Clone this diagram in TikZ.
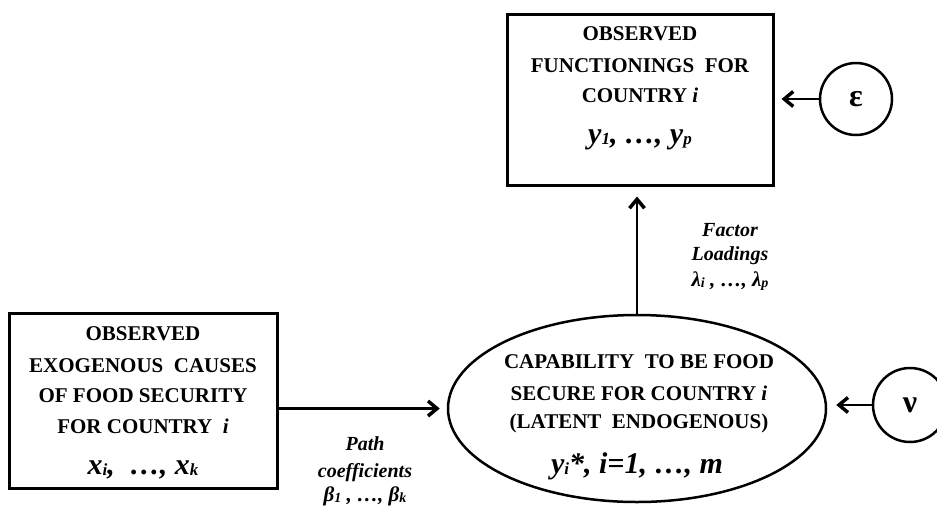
\documentclass[tikz,border=0pt]{standalone}
\usepackage{fontspec}
\setmainfont{Liberation Serif}
\usetikzlibrary{arrows.meta,shapes.geometric}
\newcommand{\lowix}[1]{\raisebox{-1pt}{\fontsize{17}{17}\selectfont #1}}
\newcommand{\lowsm}[1]{\raisebox{-1pt}{\fontsize{14}{14}\selectfont #1}}
\begin{document}
\begin{tikzpicture}[x=1pt,y=-1pt,
  obsbox/.style={draw, line width=3pt, rectangle, inner sep=0pt},
  latent/.style={draw, line width=2.5pt, ellipse, inner sep=0pt},
  errnode/.style={draw, line width=2.5pt, circle, inner sep=0pt},
  caps/.style={font=\fontsize{21}{31}\selectfont\bfseries, anchor=base, inner sep=0pt},
  varline/.style={font=\fontsize{30}{34}\selectfont\bfseries\itshape, anchor=base, inner sep=0pt},
  lab/.style={font=\fontsize{20}{25}\selectfont\bfseries\itshape, anchor=base, inner sep=0pt},
  coef/.style={font=\fontsize{21}{23}\selectfont\bfseries\itshape, anchor=base, inner sep=0pt},
  arr/.style={line width=2.5pt, -{Straight Barb[length=9pt,width=15pt,line width=3.5pt]}}]
\useasboundingbox (0,0) rectangle (937,509);

% observed functionings
\node[obsbox, minimum width=266, minimum height=171] (top) at (640,99.5) {};
\node[caps] (top1) at (640,40.7) {OBSERVED};
\node[caps] (top2) at (640,72.7) {FUNCTIONINGS\ \ FOR};
\node[caps] (top3) at (640,102.7) {COUNTRY {\itshape i}};
\node[varline] (top4) at (640,143) {y\lowix{1}, \dots, y\lowix{p}};

% observed exogenous causes
\node[obsbox, minimum width=268, minimum height=175] (left) at (143,400.5) {};
\node[caps] (left1) at (143,340.7) {OBSERVED};
\node[caps] (left2) at (143,372) {EXOGENOUS\ \ CAUSES};
\node[caps] (left3) at (143,402.7) {OF FOOD SECURITY};
\node[caps] (left4) at (143,433) {FOR COUNTRY\ \ {\itshape i}};
\node[varline] (left5) at (143,474) {x\lowix{i},\ \ \dots, x\lowix{k}};

% latent capability
\node[latent, minimum width=378, minimum height=187] (lat) at (637,408.5) {};
\node[caps] (lat1) at (639,368) {CAPABILITY\ \ TO BE FOOD};
\node[caps] (lat2) at (639,400) {SECURE FOR COUNTRY {\itshape i}};
\node[caps] (lat3) at (639,428) {(LATENT\ \ ENDOGENOUS)};
\node[varline] (lat4) at (637,473) {y\lowix{i}*, i=1, \dots, m};

% error terms
\node[errnode, minimum size=72, font=\fontsize{32}{32}\selectfont\bfseries] (eps) at (856,99) {ε};
\node[errnode, minimum size=74, font=\fontsize{32}{32}\selectfont\bfseries] (nu) at (910,405) {ν};

% connectors
\draw[arr, shorten >=7pt] (left.east |- lat.west) -- (lat.west);
\draw[arr, shorten >=10pt] (lat.north) -- (lat.north |- top.south);
\draw[arr, shorten >=7pt] (eps.west) -- (eps.west -| top.east);
\draw[arr, shorten >=9pt] (nu.west) -- (nu.west -| lat.east);

% path labels
\node[lab] (fac1) at (730,236) {Factor};
\node[lab] (fac2) at (730,260) {Loadings};
\node[coef] (fac3) at (730,286) {λ\lowsm{i} , \dots, λ\lowsm{p}};
\node[lab] (pc1) at (365,450) {Path};
\node[lab] (pc2) at (365,477) {coefficients};
\node[coef] (pc3) at (365,501) {β\lowsm{1} , \dots, β\lowsm{k}};
\end{tikzpicture}
\end{document}
